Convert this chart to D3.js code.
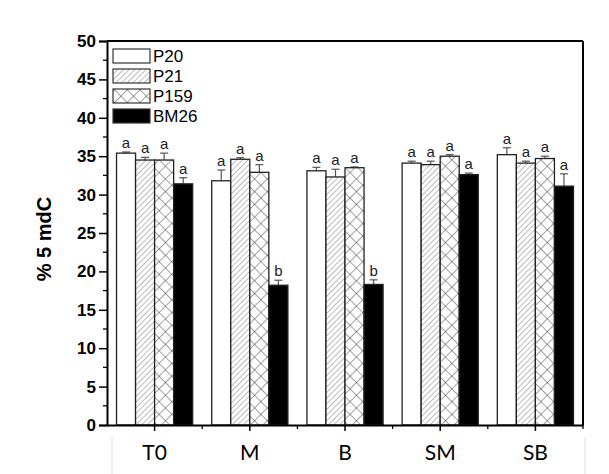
<!DOCTYPE html>
<html><head><meta charset="utf-8">
<script src="https://cdn.jsdelivr.net/npm/d3@7"></script>
<style>body{margin:0;background:#fff}svg{display:block}</style>
</head><body>
<svg id="c" width="609" height="474"></svg>
<script>
const categories = ["T0","M","B","SM","SB"];
const seriesNames = ["P20","P21","P159","BM26"];
const P20  = [35.4, 31.8, 33.1, 34.1, 35.2];
const P21  = [34.5, 34.6, 32.3, 33.9, 34.1];
const P159 = [34.5, 32.9, 33.5, 35.0, 34.7];
const BM26 = [31.4, 18.2, 18.3, 32.6, 31.1];
const P20err  = [0.15, 1.4, 0.45, 0.25, 0.9];
const P21err  = [0.35, 0.2, 1.0, 0.45, 0.25];
const P159err = [0.9, 1.0, 0.1, 0.2, 0.3];
const BM26err = [0.8, 0.65, 0.6, 0.2, 1.6];
const P20lab  = ["a","a","a","a","a"];
const P21lab  = ["a","a","a","a","a"];
const P159lab = ["a","a","a","a","a"];
const BM26lab = ["a","b","b","a","a"];
const yTicks = [0,5,10,15,20,25,30,35,40,45,50];

const values = [P20,P21,P159,BM26];
const errs = [P20err,P21err,P159err,BM26err];
const labs = [P20lab,P21lab,P159lab,BM26lab];

const svg = d3.select("#c");
const L=107, R=583, T=41, B=425;
const defs = svg.append("defs");
const hatch = defs.append("pattern").attr("id","hatch").attr("patternUnits","userSpaceOnUse")
  .attr("width",4).attr("height",4).attr("patternTransform","rotate(45)");
hatch.append("rect").attr("width",4).attr("height",4).attr("fill","#fff");
hatch.append("line").attr("x1",0).attr("y1",0).attr("x2",0).attr("y2",4).attr("stroke","#777").attr("stroke-width",1);
const cross = defs.append("pattern").attr("id","cross").attr("patternUnits","userSpaceOnUse")
  .attr("width",9).attr("height",9).attr("patternTransform","rotate(45)");
cross.append("rect").attr("width",9).attr("height",9).attr("fill","#fff");
cross.append("line").attr("x1",0).attr("y1",0).attr("x2",0).attr("y2",9).attr("stroke","#444").attr("stroke-width",1);
cross.append("line").attr("x1",0).attr("y1",0).attr("x2",9).attr("y2",0).attr("stroke","#444").attr("stroke-width",1);
const fills = ["#fff","url(#hatch)","url(#cross)","#000"];

const x = d3.scaleBand().domain(categories).range([L,R]).paddingInner(0).paddingOuter(0);
const xs = d3.scaleBand().domain(seriesNames).range([0,x.bandwidth()]).paddingInner(0).paddingOuter(0.5);
const y = d3.scaleLinear().domain([0,50]).range([B,T]);

svg.append("line").attr("x1",112).attr("x2",112).attr("y1",437).attr("y2",474).attr("stroke","#e0e0e0");
svg.append("line").attr("x1",585).attr("x2",585).attr("y1",437).attr("y2",474).attr("stroke","#e0e0e0");

const g = svg.append("g");
seriesNames.forEach((s,si)=>{
  categories.forEach((c,ci)=>{
    const v = values[si][ci], e = errs[si][ci];
    const bx = x(c)+xs(s), bw = xs.bandwidth();
    const cx = bx+bw/2;
    g.append("line").attr("x1",cx).attr("x2",cx).attr("y1",y(v)).attr("y2",y(v+e)).attr("stroke","#555").attr("stroke-width",1.2);
    g.append("line").attr("x1",cx-4).attr("x2",cx+4).attr("y1",y(v+e)).attr("y2",y(v+e)).attr("stroke","#555").attr("stroke-width",1.2);
    g.append("rect").attr("x",bx).attr("y",y(v)).attr("width",bw).attr("height",y(0)-y(v))
      .attr("fill",fills[si]).attr("stroke","#222").attr("stroke-width",1.3);
    g.append("text").attr("x",cx).attr("y",y(v+e)-4).attr("text-anchor","middle")
      .attr("font-family","Liberation Sans, Arial, sans-serif").attr("font-size",15).attr("fill","#222").text(labs[si][ci]);
  });
});

svg.append("line").attr("x1",L).attr("x2",R).attr("y1",T).attr("y2",T).attr("stroke","#000").attr("stroke-width",2);
svg.append("line").attr("x1",R).attr("x2",R).attr("y1",T).attr("y2",B).attr("stroke","#000").attr("stroke-width",2);

const ya = svg.append("g").attr("transform",`translate(${L},0)`)
  .call(d3.axisLeft(y).tickValues(yTicks).tickSize(8).tickPadding(3).tickFormat(d3.format("d")));
ya.select(".domain").attr("stroke-width",2);
ya.selectAll(".tick line").attr("stroke-width",1.5);
ya.selectAll("text").attr("font-family","Liberation Sans, Arial, sans-serif").attr("font-weight","bold").attr("font-size",17).attr("fill","#000");
const yMinor = d3.range(2.5,50,5);
svg.append("g").selectAll("line").data(yMinor).join("line")
  .attr("x1",L-4).attr("x2",L).attr("y1",d=>y(d)).attr("y2",d=>y(d)).attr("stroke","#000").attr("stroke-width",1.3);

const xa = svg.append("g").attr("transform",`translate(0,${B})`)
  .call(d3.axisBottom(x).tickSize(6).tickSizeOuter(0).tickPadding(14));
xa.select(".domain").attr("stroke-width",2);
xa.selectAll(".tick line").attr("stroke-width",1.5);
xa.selectAll("text").attr("font-family","Lato, 'Open Sans', sans-serif").attr("font-size",21).attr("fill","#000");
const xMinor = categories.slice(1).map(c=>x(c)).concat([R]);
svg.append("g").selectAll("line").data(xMinor).join("line")
  .attr("x1",d=>d).attr("x2",d=>d).attr("y1",B).attr("y2",B+4).attr("stroke","#000").attr("stroke-width",1.3);

svg.append("text").attr("transform","translate(51,239) rotate(-90)").attr("text-anchor","middle")
  .attr("font-family","Liberation Sans, Arial, sans-serif").attr("font-weight","bold").attr("font-size",20).text("% 5 mdC");

const lg = svg.append("g");
seriesNames.forEach((s,i)=>{
  const ly = 49 + i*20;
  lg.append("rect").attr("x",113).attr("y",ly).attr("width",37).attr("height",14)
    .attr("fill",fills[i]).attr("stroke","#333").attr("stroke-width",1.2);
  lg.append("text").attr("x",153).attr("y",ly+13).attr("font-family","Liberation Sans, Arial, sans-serif")
    .attr("font-size",17).attr("fill","#000").text(s);
});
</script>
</body></html>
